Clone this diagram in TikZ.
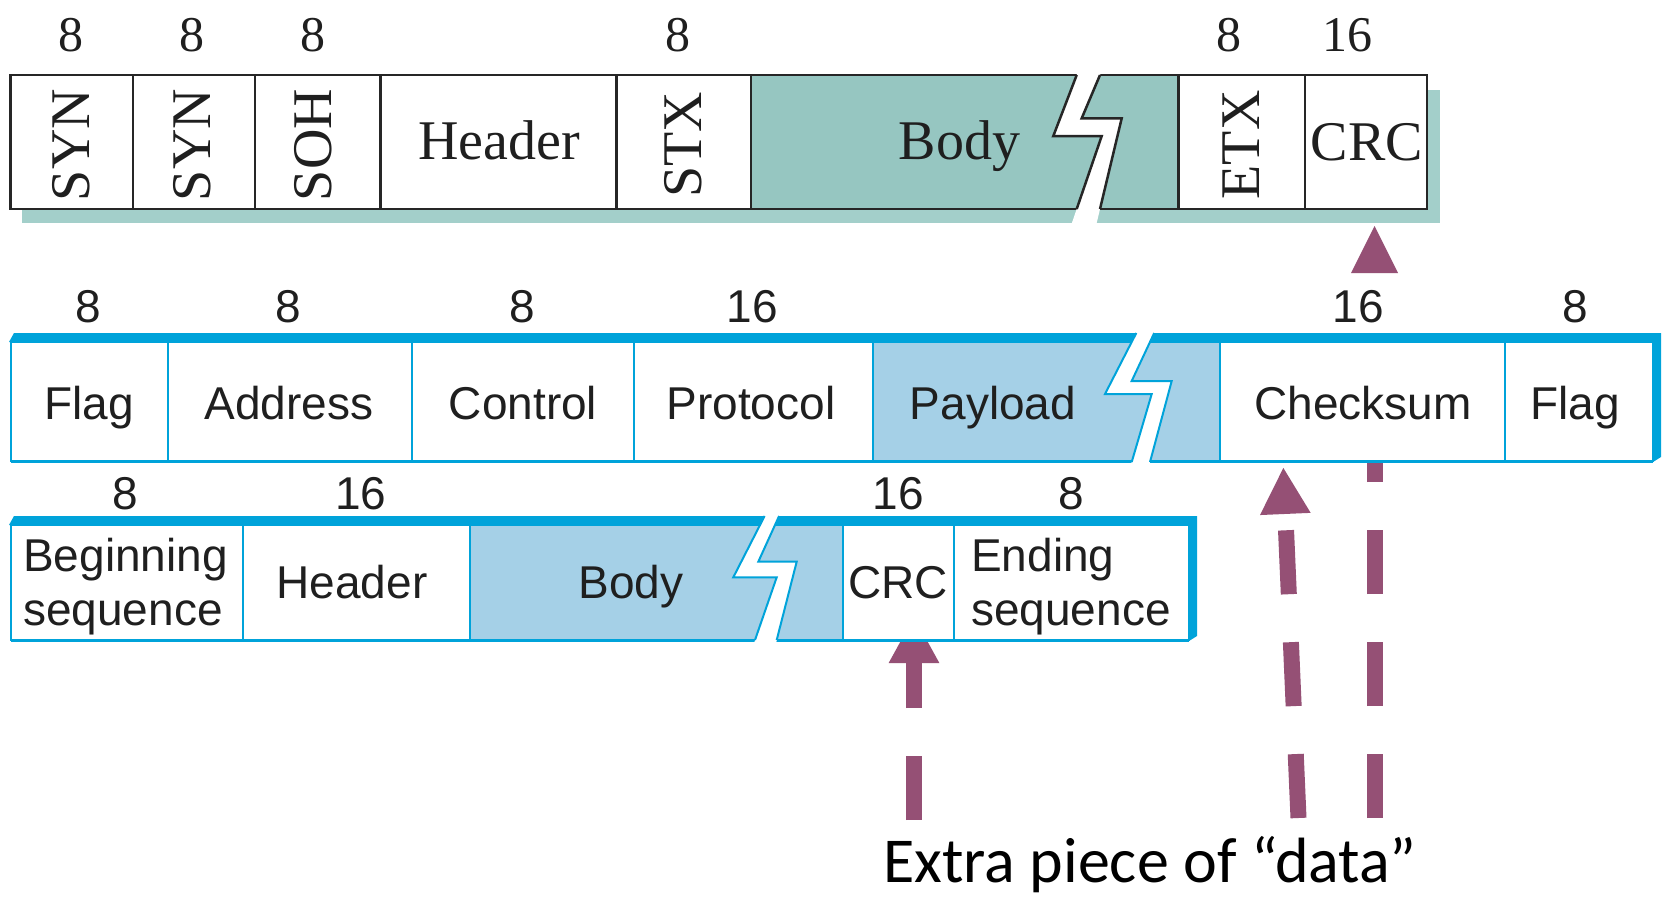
\documentclass[tikz,border=0pt]{standalone}
\usepackage{fontspec}
\setmainfont{Liberation Sans}
\newfontfamily\serA{Liberation Serif}
\newfontfamily\calib{Carlito}
\usetikzlibrary{arrows.meta}
\definecolor{lineblue}{HTML}{00A3DA}
\definecolor{payblue}{HTML}{A5D0E7}
\definecolor{bodyteal}{HTML}{96C6C1}
\definecolor{shadowteal}{HTML}{A3CFCA}
\definecolor{framegray}{HTML}{262626}
\definecolor{arrowcol}{HTML}{955075}
\tikzset{
  bline/.style={draw=lineblue, line width=2pt},
  kline/.style={draw=framegray, line width=2.5pt},
  lab/.style={inner sep=0pt, font=\fontsize{46}{54}\selectfont, text=black!88},
  serlab/.style={inner sep=0pt, font=\serA\fontsize{56}{60}\selectfont, text=black!88},
  sernum/.style={inner sep=0pt, font=\serA\fontsize{50}{56}\selectfont, text=black!88},
  arr/.style={draw=arrowcol, line width=16pt, dash pattern=on 64pt off 48pt,
    -{Triangle[width=47pt,length=47pt]}},
  shaft/.style={draw=arrowcol, line width=16pt, dash pattern=on 64pt off 48pt},
}
\begin{document}
\begin{tikzpicture}[x=1pt,y=-1pt]
\useasboundingbox (0,0) rectangle (1666,897);
\fill[white] (0,0) rectangle (1666,897);

% ---------- arrows (drawn first, frames cover their ends) ----------
\coordinate (a1s) at (914,820);
\coordinate (a1t) at (914,616);
\coordinate (a2s) at (1298.5,818);
\coordinate (a2t) at (1283.3,467);
\coordinate (a3s) at (1374.5,818);
\coordinate (a3e) at (1374.5,461);
\draw[arr] (a1s) -- (a1t);
\draw[arr] (a2s) -- (a2t);
\draw[shaft] (a3s) -- (a3e);
\coordinate (h3l) at (1351,273);
\coordinate (h3r) at (1398,273);
\coordinate (h3t) at (1374.5,226);
\fill[arrowcol] (h3l) -- (h3r) -- (h3t) -- cycle;

% ---------- row 1 (BISYNC) ----------
\fill[shadowteal] (22,90) rectangle (1440,223);
\fill[white] (10.6,75) rectangle (1427,209);
\fill[bodyteal] (751.2,75) rectangle (1178.3,209);
\draw[kline] (10.6,75) rectangle (1427,209);
\foreach \x in {132.8,255,380.4,616.3,751.2,1178.3,1304.8}
  \draw[kline] (\x,75) -- (\x,209);
\fill[white] (1078.2,71) -- (1053.3,136) -- (1101.7,136) -- (1071.2,225)
  -- (1096.2,225) -- (1121.7,118.3) -- (1081.7,118.3) -- (1101.7,71) -- cycle;
\draw[kline] (1076.7,75) -- (1053.3,136) -- (1101.7,136) -- (1076.7,209);
\draw[kline] (1100,75) -- (1081.7,118.3) -- (1121.7,118.3) -- (1100,209);

\node[sernum, anchor=base] (n11) at (71,51) {8};
\node[sernum, anchor=base] (n12) at (192,51) {8};
\node[sernum, anchor=base] (n13) at (313,51) {8};
\node[sernum, anchor=base] (n14) at (678,51) {8};
\node[sernum, anchor=base] (n15) at (1229,51) {8};
\node[sernum, anchor=base] (n16) at (1347,51) {16};
\node[serlab, rotate=90] (syn1) at (71,145) {SYN};
\node[serlab, rotate=90] (syn2) at (192,145) {SYN};
\node[serlab, rotate=90] (soh) at (313,145) {SOH};
\node[serlab, rotate=90] (stx) at (683,145) {STX};
\node[serlab, rotate=90] (etx) at (1241,145) {ETX};
\node[serlab, anchor=base] (hdr1) at (499,159) {Header};
\node[serlab, anchor=base] (body1) at (959.5,159) {Body};
\node[serlab, anchor=base] (crc1) at (1367,160) {CRC};

% ---------- row 2 (PPP) ----------
\fill[lineblue] (9,342) -- (14,333) -- (1661,333) -- (1661,457) -- (1653,462) -- (1653,342) -- cycle;
\fill[white] (10.6,342) rectangle (1653,461);
\fill[payblue] (873,342) rectangle (1219.5,461);
\draw[bline] (10.6,342) rectangle (1653,461);
\draw[draw=lineblue, line width=3pt] (10.6,461) -- (1653,461);
\foreach \x in {168,412,634,873,1219.5,1504.5}
  \draw[bline] (\x,342) -- (\x,461);
\fill[white] (1136.8,331) -- (1105,394) -- (1151.7,394) -- (1131.2,463.5)
  -- (1149.6,463.5) -- (1171.7,381) -- (1131.7,381) -- (1155.1,331) -- cycle;
\draw[bline] (1136.3,333) -- (1105,394) -- (1151.7,394) -- (1131.7,462);
\draw[bline] (1154.2,333) -- (1131.7,381) -- (1171.7,381) -- (1150,462);

\node[lab, anchor=base] (n21) at (88,322) {8};
\node[lab, anchor=base] (n22) at (288,322) {8};
\node[lab, anchor=base] (n23) at (522,322) {8};
\node[lab, anchor=base] (n24) at (752,322) {16};
\node[lab, anchor=base] (n25) at (1358,322) {16};
\node[lab, anchor=base] (n26) at (1575,322) {8};
\node[lab, anchor=base] (flag1) at (89,419) {Flag};
\node[lab, anchor=base] (addr) at (289,419) {Address};
\node[lab, anchor=base] (ctrl) at (523,419) {Control};
\node[lab, anchor=base] (proto) at (751,419) {Protocol};
\node[lab, anchor=base] (payl) at (993,419) {Payload};
\node[lab, anchor=base] (cks) at (1363,419) {Checksum};
\node[lab, anchor=base] (flag2) at (1575,419) {Flag};

% ---------- row 3 ----------
\fill[lineblue] (9,525) -- (14,516) -- (1197,516) -- (1197,636) -- (1189,641) -- (1189,525) -- cycle;
\fill[white] (10.6,525) rectangle (1189,640);
\fill[payblue] (469.6,525) rectangle (842.6,640);
\draw[bline] (10.6,525) rectangle (1189,640);
\draw[draw=lineblue, line width=3pt] (10.6,640) -- (1189,640);
\foreach \x in {243.3,469.6,842.6,954}
  \draw[bline] (\x,525) -- (\x,640);
\fill[white] (765.6,514) -- (733.3,577.3) -- (776.7,577.3) -- (754.3,642.5)
  -- (776.2,642.5) -- (796.7,561.7) -- (758.3,561.7) -- (780,514) -- cycle;
\draw[bline] (764.6,516) -- (733.3,577.3) -- (776.7,577.3) -- (755,640);
\draw[bline] (779.1,516) -- (758.3,561.7) -- (796.7,561.7) -- (776.7,640);

\node[lab, anchor=base] (n31) at (125,509) {8};
\node[lab, anchor=base] (n32) at (361,509) {16};
\node[lab, anchor=base] (n33) at (898,509) {16};
\node[lab, anchor=base] (n34) at (1071,509) {8};
\node[lab, anchor=base west] (beg1) at (23,571.6) {Beginning};
\node[lab, anchor=base west] (beg2) at (23,625) {sequence};
\node[lab, anchor=base] (hdr3) at (352,598) {Header};
\node[lab, anchor=base] (body3) at (631,598) {Body};
\node[lab, anchor=base] (crc3) at (898,598) {CRC};
\node[lab, anchor=base west] (end1) at (971,571.6) {Ending};
\node[lab, anchor=base west] (end2) at (971,625) {sequence};

% ---------- caption ----------
\node[inner sep=0pt, anchor=base, font=\calib\fontsize{64}{70}\selectfont] (extra) at (1150,882)
  {Extra piece of “data”};
\end{tikzpicture}
\end{document}
